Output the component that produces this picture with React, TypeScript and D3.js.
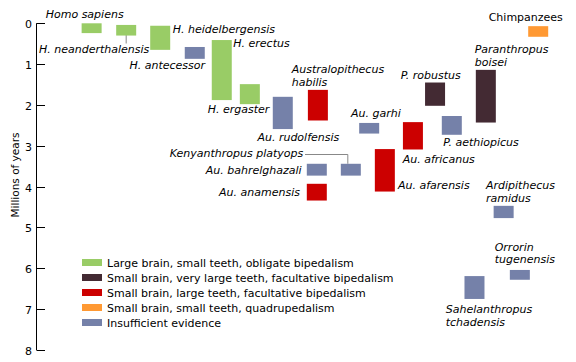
import React from "react";
import * as d3 from "d3";

// ---- data ----
const species = [
  "Homo sapiens", "H. neanderthalensis", "H. heidelbergensis", "H. antecessor",
  "H. erectus", "H. ergaster", "Au. rudolfensis", "Australopithecus habilis",
  "Au. bahrelghazali", "Au. anamensis", "Kenyanthropus platyops", "Au. garhi",
  "Au. afarensis", "Au. africanus", "P. robustus", "P. aethiopicus",
  "Sahelanthropus tchadensis", "Paranthropus boisei", "Ardipithecus ramidus",
  "Orrorin tugenensis", "Chimpanzees",
];
// column position of each species (arbitrary layout units 0..100)
const column = [
  10.3, 16.7, 23.0, 29.4, 34.4, 39.6, 45.7, 52.2, 52.0, 52.0, 58.3, 61.7,
  64.6, 69.8, 73.9, 77.0, 81.2, 83.3, 86.6, 89.6, 93.0,
];
// millions of years ago: most recent / oldest
const youngest = [
  0.0, 0.04, 0.06, 0.58, 0.41, 1.49, 1.80, 1.63, 3.44, 3.93, 3.44, 2.44,
  3.08, 2.42, 1.45, 2.27, 6.19, 1.14, 4.47, 6.04, 0.07,
];
const oldest = [
  0.24, 0.30, 0.65, 0.87, 1.88, 1.98, 2.59, 2.38, 3.73, 4.34, 3.73, 2.70,
  4.12, 3.09, 2.02, 2.73, 6.75, 2.43, 4.77, 6.28, 0.33,
];
// trait group index
const group = [0, 0, 0, 4, 0, 0, 4, 2, 4, 2, 4, 4, 2, 2, 1, 4, 4, 1, 4, 4, 3];

const groupLabels = [
  "Large brain, small teeth, obligate bipedalism",
  "Small brain, very large teeth, facultative bipedalism",
  "Small brain, large teeth, facultative bipedalism",
  "Small brain, small teeth, quadrupedalism",
  "Insufficient evidence",
];
const groupColors = ["#99cc66", "#432a33", "#cc0000", "#ff9933", "#7581a9"];
const yTicks = [0, 1, 2, 3, 4, 5, 6, 7, 8];
const axisTitle = "Millions of years";

// ---- layout (labels) ----
type Lab = { lines: string[]; x: number; y: number; anchor: "start" | "end"; italic?: boolean };
const labelLayout: Lab[] = [
  { lines: ["Homo sapiens"], x: 45.7, y: 18, anchor: "start" },
  { lines: ["H. neanderthalensis"], x: 39, y: 52.7, anchor: "start" },
  { lines: ["H. heidelbergensis"], x: 172.7, y: 32.7, anchor: "start" },
  { lines: ["H. antecessor"], x: 205, y: 69.3, anchor: "end" },
  { lines: ["H. erectus"], x: 233.3, y: 47.3, anchor: "start" },
  { lines: ["H. ergaster"], x: 269.3, y: 113.3, anchor: "end" },
  { lines: ["Au. rudolfensis"], x: 339.3, y: 141, anchor: "end" },
  { lines: ["Australopithecus", "habilis"], x: 291.7, y: 73.3, anchor: "start" },
  { lines: ["Au. bahrelghazali"], x: 301.7, y: 174.3, anchor: "end" },
  { lines: ["Au. anamensis"], x: 300, y: 196, anchor: "end" },
  { lines: ["Kenyanthropus platyops"], x: 303.3, y: 156.7, anchor: "end" },
  { lines: ["Au. garhi"], x: 351, y: 117.3, anchor: "start" },
  { lines: ["Au. afarensis"], x: 398, y: 189.3, anchor: "start" },
  { lines: ["Au. africanus"], x: 402.7, y: 163.3, anchor: "start" },
  { lines: ["P. robustus"], x: 400.7, y: 78.7, anchor: "start" },
  { lines: ["P. aethiopicus"], x: 443.3, y: 146, anchor: "start" },
  { lines: ["Sahelanthropus", "tchadensis"], x: 445.7, y: 313.3, anchor: "start" },
  { lines: ["Paranthropus", "boisei"], x: 474.7, y: 53.3, anchor: "start" },
  { lines: ["Ardipithecus", "ramidus"], x: 486, y: 189.3, anchor: "start" },
  { lines: ["Orrorin", "tugenensis"], x: 494.7, y: 250.7, anchor: "start" },
  { lines: ["Chimpanzees"], x: 488.7, y: 21, anchor: "start", italic: false },
];

const W = 576;
const H = 362;
const FONT = "'DejaVu Sans', Verdana, sans-serif";

export default function App() {
  const y = d3.scaleLinear().domain([0, 8]).range([23.3, 350]);
  const x = d3.scaleLinear().domain([0, 100]).range([36, 576]);
  const barW = 20;
  const axisX = 36.5;

  const neanderIdx = species.indexOf("H. neanderthalensis");
  const kenyaIdx = species.indexOf("Kenyanthropus platyops");

  return (
    <svg
      width={W}
      height={H}
      style={{ position: "absolute", left: 0, top: 0, background: "#fff" }}
      fontFamily={FONT}
    >
      <rect x={0} y={0} width={W} height={H} fill="#fff" />
      {/* axis */}
      <line x1={axisX} x2={axisX} y1={y(0)} y2={y(8)} stroke="#000" strokeWidth={1} />
      {yTicks.map((t) => (
        <g key={t}>
          <line x1={axisX} x2={45} y1={Math.round(y(t)) + 0.5} y2={Math.round(y(t)) + 0.5} stroke="#000" />
          <text x={32} y={y(t) + 5} textAnchor="end" fontSize={11} fill="#000">
            {t}
          </text>
        </g>
      ))}
      <text
        transform={`translate(19,175) rotate(-90)`}
        textAnchor="middle"
        fontSize={10.5}
        fill="#000"
      >
        {axisTitle}
      </text>

      {/* leader lines */}
      <line
        x1={x(column[neanderIdx])}
        x2={x(column[neanderIdx])}
        y1={y(youngest[neanderIdx]) + 6}
        y2={43.5}
        stroke="#888"
      />
      <polyline
        points={`305,154.5 ${x(column[kenyaIdx]) - 3},154.5 ${x(column[kenyaIdx]) - 3},${y(youngest[kenyaIdx])}`}
        fill="none"
        stroke="#888"
      />

      {/* bars */}
      {species.map((s, i) => (
        <rect
          key={s}
          x={x(column[i]) - barW / 2}
          y={y(youngest[i])}
          width={barW}
          height={y(oldest[i]) - y(youngest[i])}
          fill={groupColors[group[i]]}
        />
      ))}

      {/* labels */}
      {labelLayout.map((l, i) => (
        <text
          key={i}
          x={l.x}
          y={l.y}
          textAnchor={l.anchor}
          fontSize={11}
          fontStyle={l.italic === false ? "normal" : "italic"}
          fill="#000"
        >
          {l.lines.map((ln, j) => (
            <tspan key={j} x={l.x} dy={j === 0 ? 0 : 12.4}>
              {ln}
            </tspan>
          ))}
        </text>
      ))}

      {/* legend */}
      {groupLabels.map((g, i) => (
        <g key={g} transform={`translate(82,${259 + i * 15})`}>
          <rect x={0} y={0} width={20} height={7} fill={groupColors[i]} />
          <text x={25} y={7.5} fontSize={11} fill="#000">
            {g}
          </text>
        </g>
      ))}
    </svg>
  );
}
